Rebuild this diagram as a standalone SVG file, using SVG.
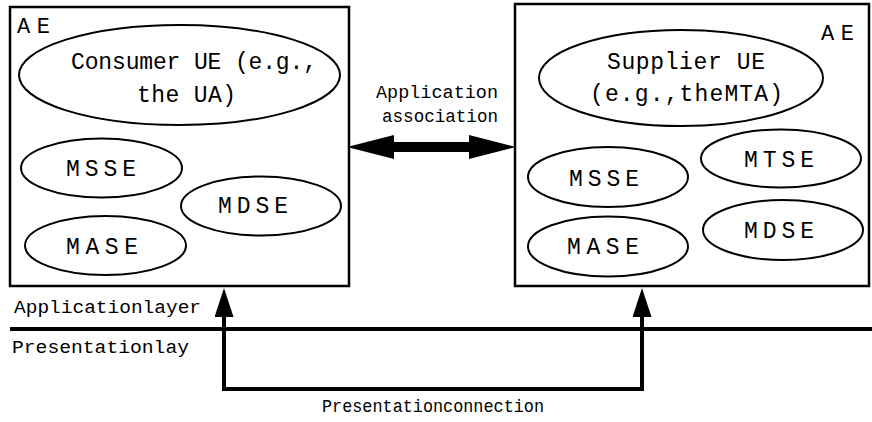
<svg xmlns="http://www.w3.org/2000/svg" width="872" height="422" viewBox="0 0 872 422">
  <style>
    .box { fill: #ffffff; stroke: #000000; stroke-width: 2.5; }
    .se { fill: #ffffff; stroke: #000000; stroke-width: 2; }
    text { font-family: "Liberation Mono", "DejaVu Sans Mono", monospace; fill: #000000; }
    .big { font-size: 23px; }
    .ae { font-size: 22px; }
    .sm { font-size: 18px; }
    .wire { fill: none; stroke: #000000; stroke-width: 4; }
    .assoc { fill: none; stroke: #000000; stroke-width: 10; }
  </style>
  <defs>
    <marker id="head-up" markerUnits="userSpaceOnUse" markerWidth="29" markerHeight="19" refX="17" refY="9.5" orient="auto-start-reverse">
      <path d="M0,0 L29,9.5 L0,19 Z" fill="#000000"/>
    </marker>
    <marker id="head-wide" markerUnits="userSpaceOnUse" markerWidth="47" markerHeight="24" refX="22" refY="12" orient="auto-start-reverse">
      <path d="M0,0 L47,12 L0,24 Z" fill="#000000"/>
    </marker>
  </defs>

  <rect width="872" height="422" fill="#ffffff"/>

  <!-- consumer application entity -->
  <g id="ae-consumer">
    <rect class="box" x="10" y="7" width="339" height="279"/>
    <text class="ae" x="17" y="32.5" textLength="33">AE</text>
  </g>
  <g id="consumer-ue">
    <ellipse class="se" cx="179.5" cy="75" rx="160.5" ry="50"/>
    <text class="big" x="71" y="69" textLength="246">Consumer UE (e.g.,</text>
    <text class="big" x="137" y="102" textLength="99">the UA)</text>
  </g>
  <g id="consumer-msse">
    <ellipse class="se" cx="101.5" cy="168" rx="80.5" ry="29.5"/>
    <text class="big" x="66" y="175.5" textLength="70">MSSE</text>
  </g>
  <g id="consumer-mdse">
    <ellipse class="se" cx="261" cy="206" rx="80" ry="29.5"/>
    <text class="big" x="218" y="213" textLength="70">MDSE</text>
  </g>
  <g id="consumer-mase">
    <ellipse class="se" cx="105.5" cy="245.5" rx="80.5" ry="29.5"/>
    <text class="big" x="66" y="254" textLength="72">MASE</text>
  </g>

  <!-- supplier application entity -->
  <g id="ae-supplier">
    <rect class="box" x="515" y="4" width="354" height="282"/>
    <text class="ae" x="821" y="39.5" textLength="33">AE</text>
  </g>
  <g id="supplier-ue">
    <ellipse class="se" cx="681" cy="78" rx="142" ry="48"/>
    <text class="big" x="607" y="69" textLength="158">Supplier UE</text>
    <text class="big" x="590" y="101" textLength="193">(e.g.,theMTA)</text>
  </g>
  <g id="supplier-msse">
    <ellipse class="se" cx="608" cy="177" rx="80" ry="30"/>
    <text class="big" x="569" y="186" textLength="70">MSSE</text>
  </g>
  <g id="supplier-mtse">
    <ellipse class="se" cx="781" cy="158.5" rx="80" ry="29"/>
    <text class="big" x="744" y="167" textLength="70">MTSE</text>
  </g>
  <g id="supplier-mdse">
    <ellipse class="se" cx="783" cy="230" rx="80" ry="30"/>
    <text class="big" x="744" y="238" textLength="70">MDSE</text>
  </g>
  <g id="supplier-mase">
    <ellipse class="se" cx="608" cy="246.5" rx="80" ry="30"/>
    <text class="big" x="567" y="254" textLength="72">MASE</text>
  </g>

  <!-- layer boundary and labels -->
  <g id="layers">
    <line x1="10" y1="329" x2="872" y2="329" stroke="#000000" stroke-width="4"/>
    <text class="sm" x="14" y="313" textLength="187" lengthAdjust="spacingAndGlyphs">Applicationlayer</text>
    <text class="sm" x="12" y="353" textLength="177" lengthAdjust="spacingAndGlyphs">Presentationlay</text>
  </g>

  <!-- connectors -->
  <g id="connectors">
    <path class="assoc" d="M372,147 H491" marker-start="url(#head-wide)" marker-end="url(#head-wide)"/>
    <text class="sm" x="376" y="98" textLength="122" lengthAdjust="spacingAndGlyphs">Application</text>
    <text class="sm" x="382" y="122" textLength="116" lengthAdjust="spacingAndGlyphs">association</text>
    <path class="wire" d="M224,300 V389 H642 V300" marker-start="url(#head-up)" marker-end="url(#head-up)"/>
    <text class="sm" x="322" y="412" textLength="222" lengthAdjust="spacingAndGlyphs">Presentationconnection</text>
  </g>
</svg>
